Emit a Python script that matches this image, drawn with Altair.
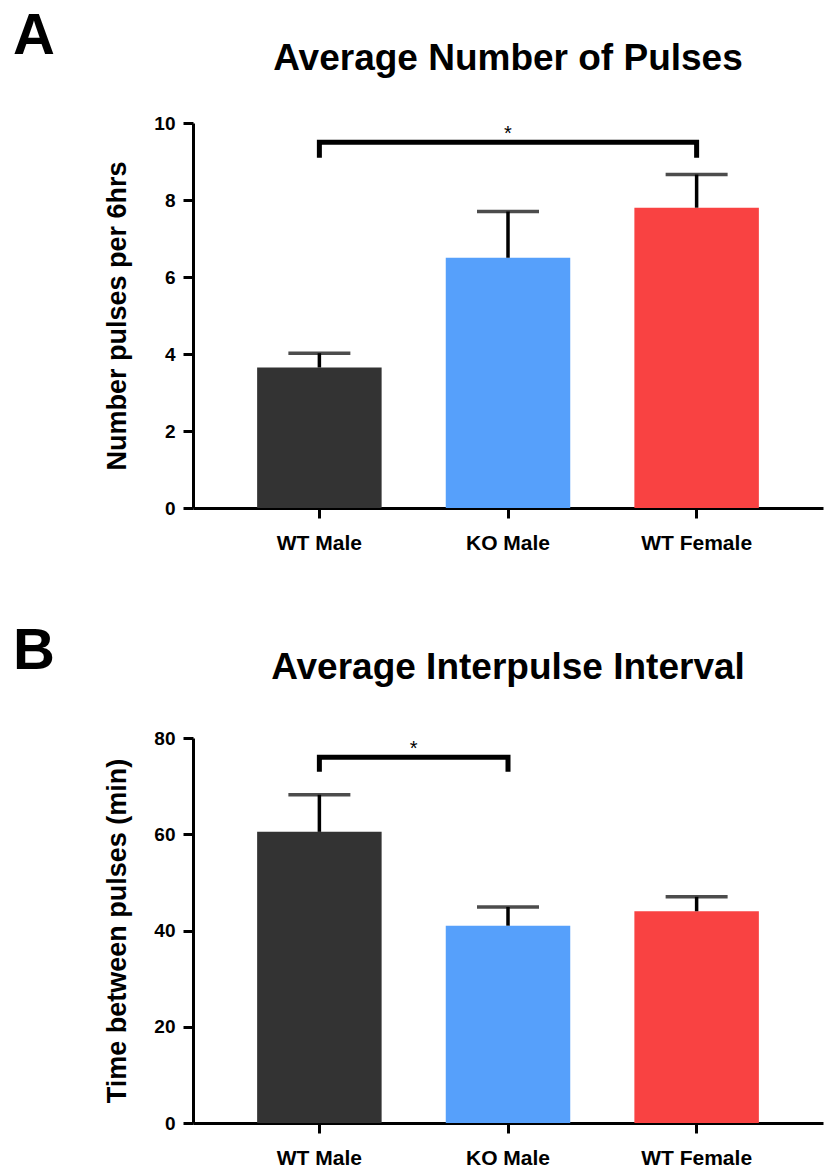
import altair as alt
import pandas as pd

# ---------------- data ----------------
groups = ["WT Male", "KO Male", "WT Female"]
bar_colors = ["#333333", "#56A0FB", "#F94242"]

pulses_mean = [3.65, 6.5, 7.8]
pulses_sem = [0.37, 1.2, 0.86]

ipi_mean = [60.5, 41.0, 44.0]
ipi_sem = [7.7, 3.9, 3.0]

# significance brackets: compared groups and (leg end, bracket) levels
sig_a_groups = ["WT Male", "WT Female"]
sig_a_levels = [9.1, 9.5]
sig_b_groups = ["WT Male", "KO Male"]
sig_b_levels = [73, 76]

FONT = "Liberation Sans"
W = 630
H = 385
PAD = 0.34
STEP = W / (len(groups) - PAD + 2 * PAD)


def panel(letter, heading, heading_y, ytitle, means, sems, ymax, ystep,
          sig_groups, sig_levels, n_steps):
    df = pd.DataFrame({
        "group": groups,
        "mean": means,
        "upper": [m + s for m, s in zip(means, sems)],
    })
    xscale = alt.Scale(domain=groups, paddingInner=PAD, paddingOuter=PAD)
    x = alt.X("group:N", sort=groups, scale=xscale, title=None,
              axis=alt.Axis(labelAngle=0))
    yscale = alt.Scale(domain=[0, ymax], nice=False)
    y = alt.Y("mean:Q", scale=yscale, title=ytitle,
              axis=alt.Axis(values=list(range(0, ymax + 1, ystep))))

    base = alt.Chart(df)
    bars = base.mark_bar().encode(
        x=x, y=y,
        color=alt.Color("group:N", scale=alt.Scale(domain=groups, range=bar_colors),
                        legend=None),
    )
    err = base.mark_rule(strokeWidth=3.5, color="black").encode(
        x=alt.X("group:N", sort=groups, title=None),
        y=alt.Y("mean:Q", title=ytitle),
        y2="upper:Q",
    )
    cap = base.mark_tick(thickness=3.5, size=62, color="black").encode(
        x=alt.X("group:N", sort=groups, title=None),
        y=alt.Y("upper:Q", title=ytitle),
    )

    g1, g2 = sig_groups
    lo, hi = sig_levels
    bdf = pd.DataFrame({"group": [g1, g1, g2, g2], "level": [lo, hi, hi, lo],
                        "k": [0, 1, 2, 3]})
    bracket = alt.Chart(bdf).mark_line(strokeWidth=5, color="black",
                                       strokeJoin="miter", strokeCap="butt").encode(
        x=alt.X("group:N", sort=groups, title=None),
        y=alt.Y("level:Q", title=ytitle),
        order="k:Q",
    )
    star = alt.Chart(pd.DataFrame({"group": [g1], "level": [hi], "t": ["*"]})).mark_text(
        dx=STEP * n_steps / 2, dy=-2, fontSize=20, font=FONT, baseline="alphabetic",
        color="black",
    ).encode(
        x=alt.X("group:N", sort=groups, title=None),
        y=alt.Y("level:Q", title=ytitle),
        text="t:N",
    )
    letter_mark = alt.Chart(pd.DataFrame({"t": [letter]})).mark_text(
        align="left", baseline="top", fontSize=58, fontWeight="bold", font=FONT,
        color="black",
    ).encode(text="t:N", x=alt.value(-180), y=alt.value(-115))
    heading_mark = alt.Chart(pd.DataFrame({"t": [heading]})).mark_text(
        align="center", baseline="alphabetic", fontSize=37, fontWeight="bold",
        font=FONT, color="black",
    ).encode(text="t:N", x=alt.value(W / 2), y=alt.value(heading_y))

    return alt.layer(bars, err, cap, bracket, star, letter_mark, heading_mark).properties(
        width=W, height=H
    )


chart_a = panel("A", "Average Number of Pulses", -53, "Number pulses per 6hrs",
                pulses_mean, pulses_sem, 10, 2, sig_a_groups, sig_a_levels, 2)
chart_b = panel("B", "Average Interpulse Interval", -59, "Time between pulses (min)",
                ipi_mean, ipi_sem, 80, 20, sig_b_groups, sig_b_levels, 1)

chart = alt.vconcat(chart_a, chart_b, spacing=70).properties(
    padding={"left": 13, "top": 8, "right": 5, "bottom": 0}
).configure_view(stroke=None).configure_axis(
    grid=False,
    domainColor="black",
    domainWidth=3,
    tickColor="black",
    tickWidth=3,
    tickSize=10,
    labelColor="black",
    labelFont=FONT,
    labelFontWeight="bold",
    titleColor="black",
    titleFont=FONT,
    titleFontWeight="bold",
).configure_axisX(
    labelFontSize=21,
    labelPadding=14,
).configure_axisY(
    labelFontSize=19,
    labelPadding=8,
    titleFontSize=27,
    titlePadding=22,
)

chart.save("out.html", embed_options={"renderer": "svg", "actions": False})
